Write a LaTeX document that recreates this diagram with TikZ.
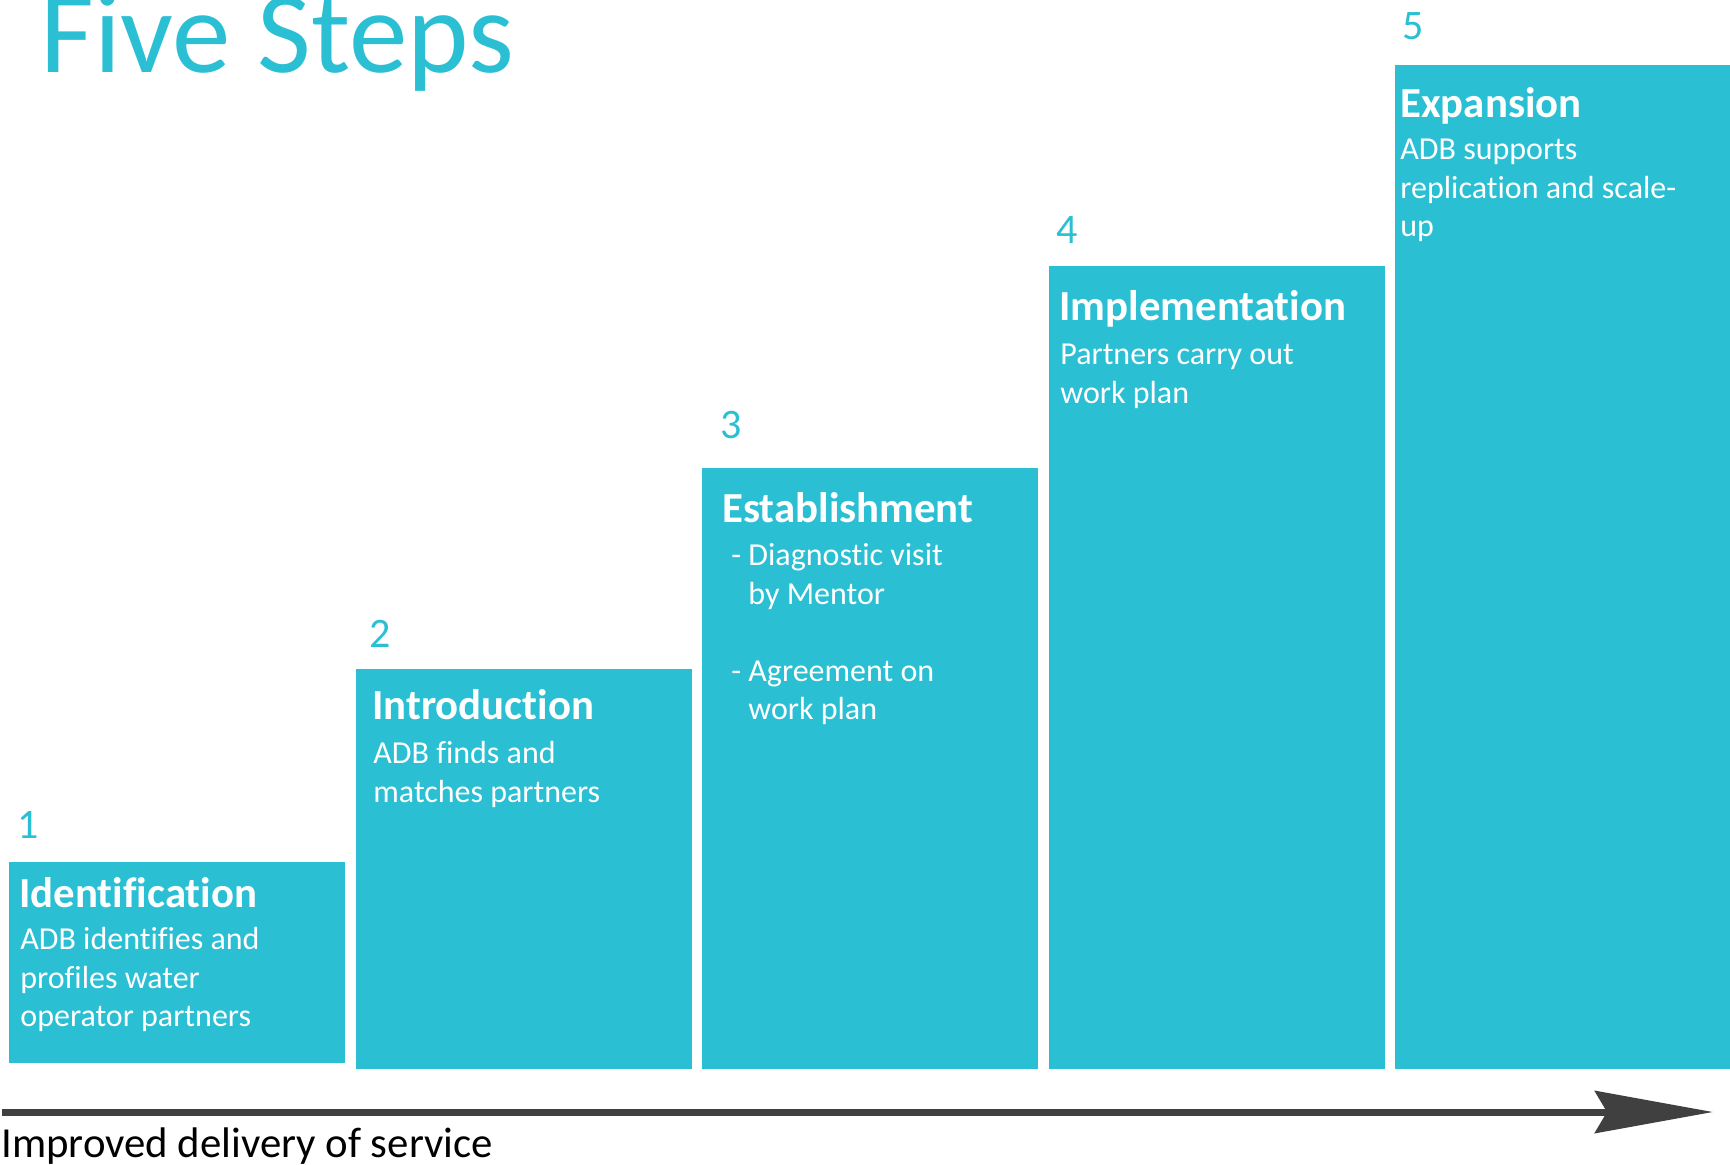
\documentclass[tikz,border=0pt]{standalone}
\usepackage{fontspec}
\setmainfont[Ligatures=NoCommon]{Carlito}
\usepackage{tikz}
\usetikzlibrary{arrows.meta}

\definecolor{stepteal}{RGB}{43,191,212}
\definecolor{axisgray}{RGB}{64,64,64}

\tikzset{
  stepbox/.style={fill=stepteal, inner sep=0, anchor=north west, minimum width=168pt},
  stepnum/.style={text=stepteal, font=\fontsize{21}{25}\selectfont, inner sep=0, anchor=base west},
  stephead/.style={text=white, font=\fontsize{21.4}{25}\selectfont\bfseries, inner sep=0, anchor=base west},
  % body text: node top sits one strut height (27 units) above the first baseline
  stepbody/.style={text=white, font=\fontsize{16}{19.3}\selectfont, inner sep=0, anchor=north west, align=left},
}

\begin{document}
\begin{tikzpicture}[x=0.5pt, y=-0.5pt]
  \useasboundingbox (0,0) rectangle (1730,1164);

  \node[text=stepteal, font=\fontsize{58.5}{60}\selectfont, inner sep=0, anchor=base west] (title) at (40,72) {Five Steps};

  % the five steps
  \node[stepbox, minimum height=100.5pt] (box1) at (9,862) {};
  \node[stepbox, minimum height=200pt] (box2) at (355.5,669) {};
  \node[stepbox, minimum height=300.5pt] (box3) at (702,468) {};
  \node[stepbox, minimum height=401.5pt] (box4) at (1048.5,266) {};
  \node[stepbox, minimum height=502pt] (box5) at (1395,65) {};

  \node[stepnum] (num1) at (17,838) {1};
  \node[stepnum] (num2) at (369,647) {2};
  \node[stepnum] (num3) at (720,438) {3};
  \node[stepnum] (num4) at (1056,243) {4};
  \node[stepnum] (num5) at (1402,39) {5};

  \node[stephead] (head1) at (19,907) {Identification};
  \node[stepbody] (body1) at (20,922) {\strut ADB identifies and\\profiles water\\operator partners};

  \node[stephead] (head2) at (372,719) {Introduction};
  \node[stepbody] (body2) at (373,736) {\strut ADB finds and\\matches partners};

  \node[stephead] (head3) at (722,522) {Establishment};
  \node[stepbody] (body3) at (731,538) {\strut - Diagnostic visit\\\hphantom{- }by Mentor\\[19.3pt]- Agreement on\\\hphantom{- }work plan};

  \node[stephead] (head4) at (1059,320) {Implementation};
  \node[stepbody] (body4) at (1060,337) {\strut Partners carry out\\work plan};

  \node[stephead] (head5) at (1400,117) {Expansion};
  \node[stepbody] (body5) at (1400,132) {\strut ADB supports\\replication and scale-\\up};

  % axis
  \coordinate (axisstart) at (2,1112);
  \coordinate (axisend) at (1713,1112);
  \draw[axisgray, line width=3.5pt, -{Stealth[length=59pt, width=21pt, inset=6pt]}] (axisstart) -- (axisend);
  \node[font=\fontsize{21.4}{25}\selectfont, inner sep=0, anchor=base west] (axislabel) at (1,1157) {Improved delivery of service};
\end{tikzpicture}
\end{document}
